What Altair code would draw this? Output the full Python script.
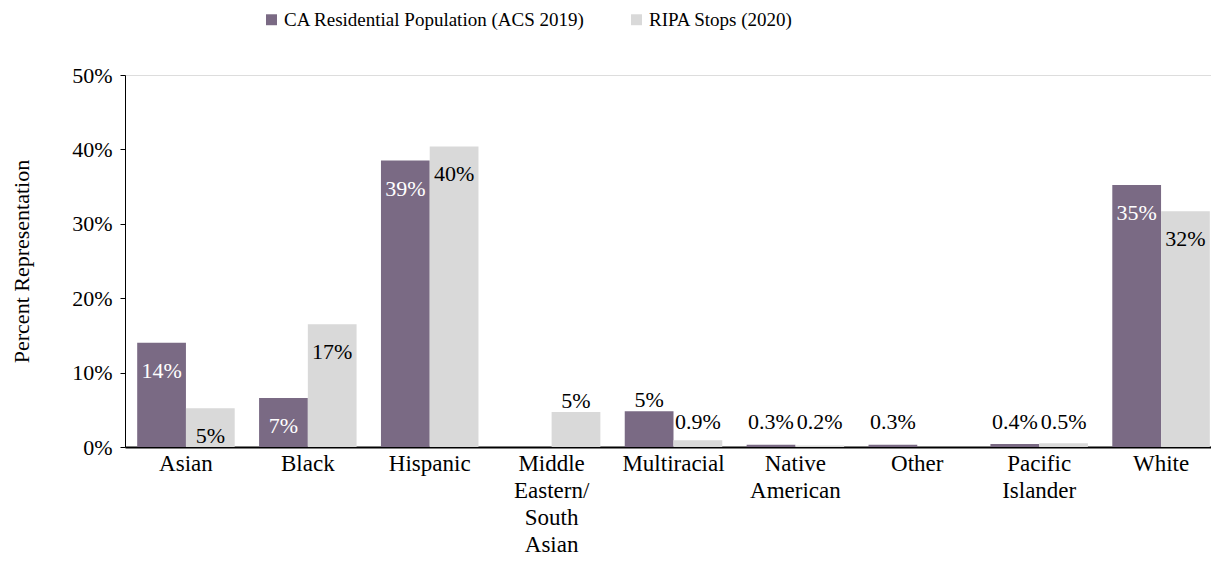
import altair as alt
import pandas as pd

categories = ["Asian", "Black", "Hispanic", "Middle|Eastern/|South|Asian", "Multiracial",
              "Native|American", "Other", "Pacific|Islander", "White"]
series_names = ["CA Residential Population (ACS 2019)", "RIPA Stops (2020)"]
acs_values = [14.0, 6.6, 38.5, 0.0, 4.8, 0.3, 0.3, 0.4, 35.2]
ripa_values = [5.2, 16.5, 40.4, 4.7, 0.9, 0.2, 0.0, 0.5, 31.7]
acs_labels = ["14%", "7%", "39%", "", "5%", "0.3%", "0.3%", "0.4%", "35%"]
ripa_labels = ["5%", "17%", "40%", "5%", "0.9%", "0.2%", "", "0.5%", "32%"]
y_ticks = [0, 10, 20, 30, 40, 50]

rows = []
for i, c in enumerate(categories):
    rows.append({"cat": c, "series": series_names[0], "value": acs_values[i], "label": acs_labels[i]})
    rows.append({"cat": c, "series": series_names[1], "value": ripa_values[i], "label": ripa_labels[i]})
df = pd.DataFrame(rows)

FONT = "Liberation Serif"
PURPLE = "#7a6a84"
GREY = "#d9d9d9"

x_enc = alt.X("cat:N", sort=categories, title=None,
              scale=alt.Scale(range=[0, 1097], paddingInner=0.2, paddingOuter=0.1),
              axis=alt.Axis(labelExpr="split(datum.label, '|')", labelAngle=0, ticks=False,
                            domainColor="black", domainWidth=2, labelFontSize=23,
                            labelLineHeight=27, labelPadding=5, labelColor="black",
                            labelFont=FONT))
xo_enc = alt.XOffset("series:N", sort=series_names)
y_scale = alt.Scale(domain=[0, 50], nice=False)

bars = alt.Chart(df).mark_bar().encode(
    x=x_enc,
    xOffset=xo_enc,
    y=alt.Y("value:Q", scale=y_scale, title="Percent Representation",
            axis=alt.Axis(values=y_ticks, labelExpr="datum.value + '%'", grid=False,
                          domainColor="black", tickColor="black", tickSize=5,
                          labelPadding=8, labelFontSize=22, labelFont=FONT, labelColor="black",
                          titleFontSize=22, titleFont=FONT, titleFontWeight="normal",
                          titleColor="black", titleAngle=-90, titleX=-104, titleY=186,
                          titleAlign="center", titleBaseline="middle")),
    color=alt.Color("series:N", sort=series_names,
                    scale=alt.Scale(domain=series_names, range=[PURPLE, GREY]),
                    legend=alt.Legend(title=None, orient="none", legendX=137, legendY=-65,
                                      direction="horizontal", columns=2, columnPadding=42,
                                      symbolType="square", symbolSize=120, symbolStrokeWidth=0,
                                      labelFontSize=19, labelFont=FONT, labelColor="black",
                                      labelLimit=0, labelOffset=3)),
)

base_text = alt.Chart(df).transform_calculate(
    inside="datum.value > 5 || (datum.cat == 'Asian')",
    ly="max(datum.value, 1.9)",
    tcol="(datum.series == '" + series_names[0] + "') ? 'white' : 'black'",
)

inside_text = base_text.transform_filter("datum.inside").mark_text(
    baseline="middle", dy=28, fontSize=22, font=FONT
).encode(
    x=alt.X("cat:N", sort=categories),
    xOffset=xo_enc,
    y=alt.Y("value:Q", scale=y_scale),
    text="label:N",
    color=alt.Color("tcol:N", scale=None),
)

outside_text = base_text.transform_filter("!datum.inside").mark_text(
    baseline="middle", dy=-11, fontSize=22, font=FONT, color="black"
).encode(
    x=alt.X("cat:N", sort=categories),
    xOffset=xo_enc,
    y=alt.Y("ly:Q", scale=y_scale),
    text="label:N",
)

chart = alt.layer(bars, inside_text, outside_text).properties(
    width=1086, height=372,
    autosize=alt.AutoSizeParams(type="none"),
    padding={"left": 117, "top": 67, "right": 0, "bottom": 127},
).configure_view(stroke=None).configure(font=FONT).configure_axis(
    labelFont=FONT, titleFont=FONT
).configure_legend(labelFont=FONT).configure_text(font=FONT)

chart.save("out.html", embed_options={"renderer": "svg", "actions": False})
